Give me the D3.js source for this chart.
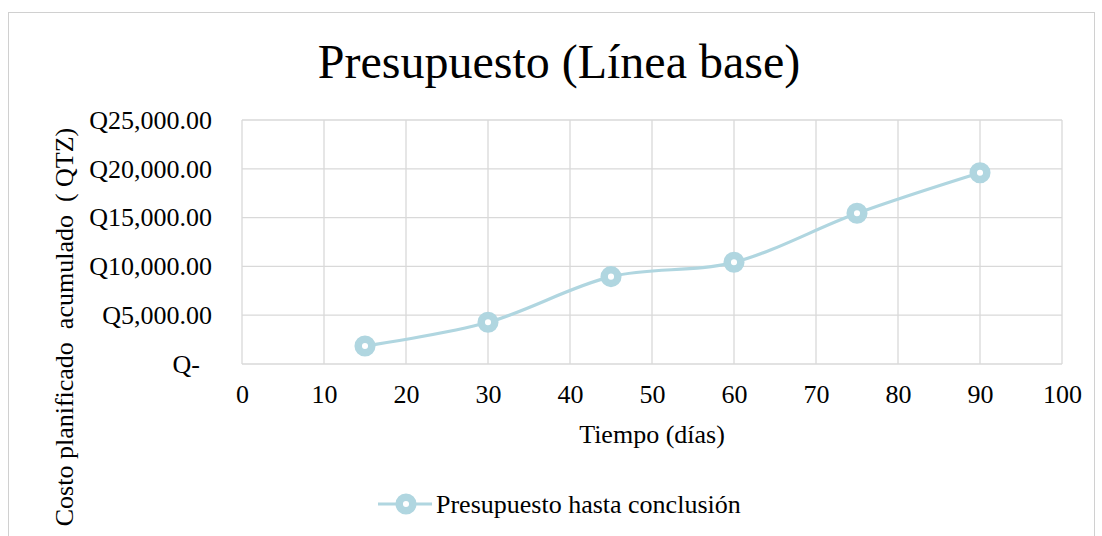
<!DOCTYPE html>
<html><head><meta charset="utf-8">
<script src="https://cdn.jsdelivr.net/npm/d3@7"></script>
<style>
html,body{margin:0;padding:0;background:#fff;}
text{font-family:"Liberation Serif","Times New Roman",serif;fill:#000;}
</style></head>
<body><svg id="c" width="1102" height="536"></svg>
<script>
const days = [15, 30, 45, 60, 75, 90];
const costs = [1850, 4270, 8950, 10420, 15440, 19600];
const xTicks = [0, 10, 20, 30, 40, 50, 60, 70, 80, 90, 100];
const yTicks = [0, 5000, 10000, 15000, 20000, 25000];
const yTickLabels = ["Q-", "Q5,000.00", "Q10,000.00", "Q15,000.00", "Q20,000.00", "Q25,000.00"];
const title = "Presupuesto (Línea base)";
const xTitle = "Tiempo (días)";
const yTitle = "Costo planificado  acumulado  ( QTZ)";
const seriesName = "Presupuesto hasta conclusión";

const svg = d3.select("#c");
const color = "#b0d6e0";
const L = 242, R = 1062, T = 120, B = 364;
const x = d3.scaleLinear().domain([0, 100]).range([L, R]);
const y = d3.scaleLinear().domain([0, 25000]).range([B, T]);

// chart border
svg.append("rect").attr("x", 8.5).attr("y", 12.5).attr("width", 1086).attr("height", 540)
  .attr("fill", "none").attr("stroke", "#d0d0d0").attr("stroke-width", 1);

// title
svg.append("text").attr("x", 559).attr("y", 78).attr("text-anchor", "middle")
  .attr("font-size", 48).text(title);

// grid
const g = svg.append("g");
g.selectAll(".vg").data(xTicks).join("line")
  .attr("x1", d => x(d)).attr("x2", d => x(d)).attr("y1", T).attr("y2", B)
  .attr("stroke", "#d9d9d9").attr("stroke-width", 1.3);
g.selectAll(".hg").data(yTicks).join("line")
  .attr("x1", L).attr("x2", R).attr("y1", d => y(d)).attr("y2", d => y(d))
  .attr("stroke", "#d9d9d9").attr("stroke-width", 1.3);

// axes labels via d3 axes
const xAxis = svg.append("g").attr("transform", `translate(0,${B})`)
  .call(d3.axisBottom(x).tickValues(xTicks).tickSize(0).tickPadding(21).tickFormat(d3.format("d")));
xAxis.select(".domain").remove();
xAxis.selectAll("text").attr("font-size", 26).attr("font-family", "Liberation Serif").attr("fill", "#000");

const yAxis = svg.append("g").attr("transform", `translate(212,0)`)
  .call(d3.axisLeft(y).tickValues(yTicks).tickSize(0).tickPadding(0)
    .tickFormat((d, i) => yTickLabels[i]));
yAxis.select(".domain").remove();
yAxis.selectAll("text").attr("font-size", 26).attr("font-family", "Liberation Serif").attr("fill", "#000")
  .attr("dx", d => d === 0 ? -12 : 0);

// axis titles
svg.append("text").attr("x", 652).attr("y", 443).attr("text-anchor", "middle")
  .attr("font-size", 26).text(xTitle);
svg.append("text").attr("transform", "translate(73,327) rotate(-90)").attr("text-anchor", "middle")
  .attr("font-size", 26).attr("xml:space", "preserve").style("white-space", "pre").text(yTitle);

// line
const pts = days.map((d, i) => [d, costs[i]]);
const line = d3.line().x(d => x(d[0])).y(d => y(d[1])).curve(d3.curveCardinal.tension(0));
svg.append("path").attr("d", line(pts)).attr("fill", "none").attr("stroke", color).attr("stroke-width", 3.2);
svg.selectAll(".m").data(pts).join("circle")
  .attr("cx", d => x(d[0])).attr("cy", d => y(d[1])).attr("r", 6.8)
  .attr("fill", "#fff").attr("stroke", color).attr("stroke-width", 7.5);

// legend
const lg = svg.append("g");
lg.append("line").attr("x1", 378).attr("x2", 432).attr("y1", 504).attr("y2", 504)
  .attr("stroke", color).attr("stroke-width", 3.2);
lg.append("circle").attr("cx", 406).attr("cy", 504).attr("r", 6.8)
  .attr("fill", "#fff").attr("stroke", color).attr("stroke-width", 7.5);
lg.append("text").attr("x", 436).attr("y", 513).attr("font-size", 26).text(seriesName);
</script></body></html>
